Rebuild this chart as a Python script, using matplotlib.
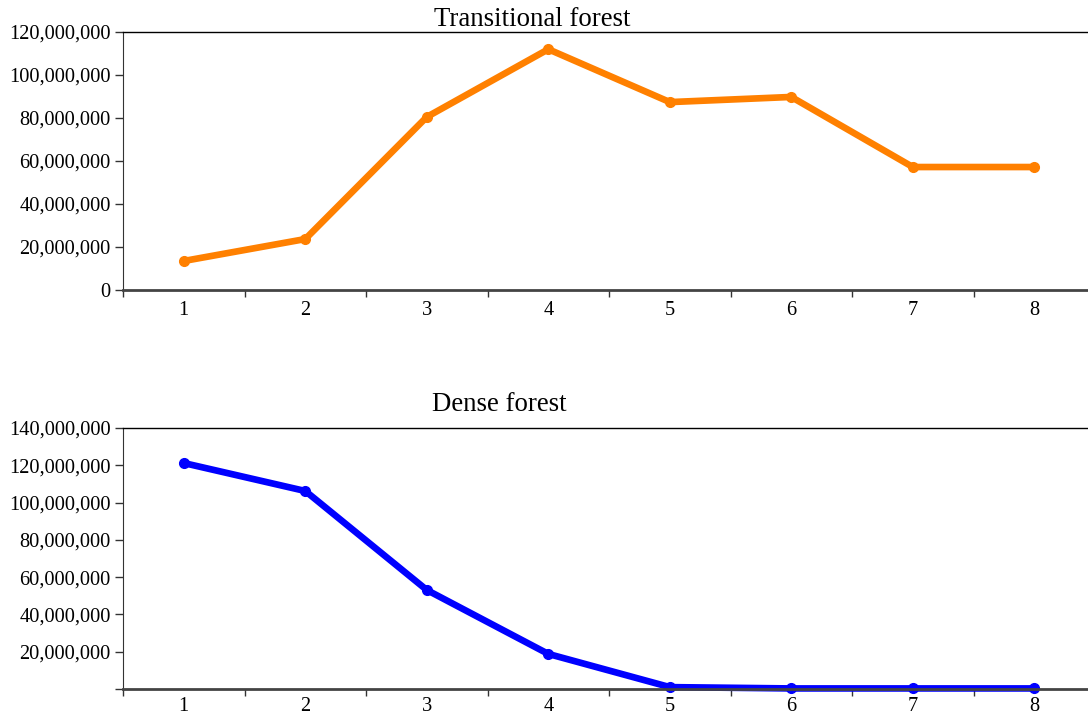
import numpy as np
import matplotlib.pyplot as plt
from matplotlib.ticker import FuncFormatter, FixedLocator

# periods and areas
periods = ['1', '2', '3', '4', '5', '6', '7', '8']
transitional = [13.5e6, 23.7e6, 80.5e6, 112.0e6, 87.4e6, 89.8e6, 57.2e6, 57.2e6]
dense = [121.2e6, 106.2e6, 53.1e6, 18.8e6, 1.0e6, 0.3e6, 0.3e6, 0.3e6]

plt.rcParams['font.family'] = ['Liberation Serif', 'DejaVu Serif']

fig = plt.figure(figsize=(10.88, 7.18), dpi=100)


def style_axis(ax, ymax, step, hide_zero, xpad):
    x = np.arange(1, len(periods) + 1)
    ax.set_xlim(0.5, len(periods) + 0.5)
    ax.set_ylim(0, ymax)
    ax.set_xticks(x)
    ax.set_xticklabels(periods)
    ax.xaxis.set_minor_locator(FixedLocator(np.arange(0.5, len(periods) + 1, 1.0)))
    ax.tick_params(axis='x', which='major', length=0, pad=xpad, labelsize=14.7)
    ax.tick_params(axis='x', which='minor', length=5, width=1, color='#333333')
    ax.set_yticks(np.arange(0, ymax + 1, step))

    def fmt(v, pos):
        if hide_zero and v == 0:
            return ''
        return '{:,.0f}'.format(v)
    ax.yaxis.set_major_formatter(FuncFormatter(fmt))
    ax.tick_params(axis='y', length=6, width=1, color='#333333', labelsize=14.7, pad=3)
    ax.spines['right'].set_visible(False)
    ax.spines['left'].set_color('#333333')
    ax.spines['bottom'].set_color('#444444')
    ax.spines['bottom'].set_linewidth(2)
    ax.spines['top'].set_linewidth(1)


ax1 = fig.add_axes([0.1131, 0.5961, 0.8934, 0.3593])
ax1.plot(np.arange(1, 9), transitional, color='#FF8000', linewidth=4.8,
         marker='o', markersize=7, clip_on=False)
style_axis(ax1, 120e6, 20e6, False, 8)
fig.text(0.489, 0.973, 'Transitional forest', ha='center', va='center', fontsize=19.3)

ax2 = fig.add_axes([0.1131, 0.0404, 0.8934, 0.3635])
ax2.plot(np.arange(1, 9), dense, color='#0000FF', linewidth=4.8,
         marker='o', markersize=7, clip_on=False)
style_axis(ax2, 140e6, 20e6, True, 6)
fig.text(0.459, 0.437, 'Dense forest', ha='center', va='center', fontsize=19.3)

fig.savefig('out.png', dpi=100)
